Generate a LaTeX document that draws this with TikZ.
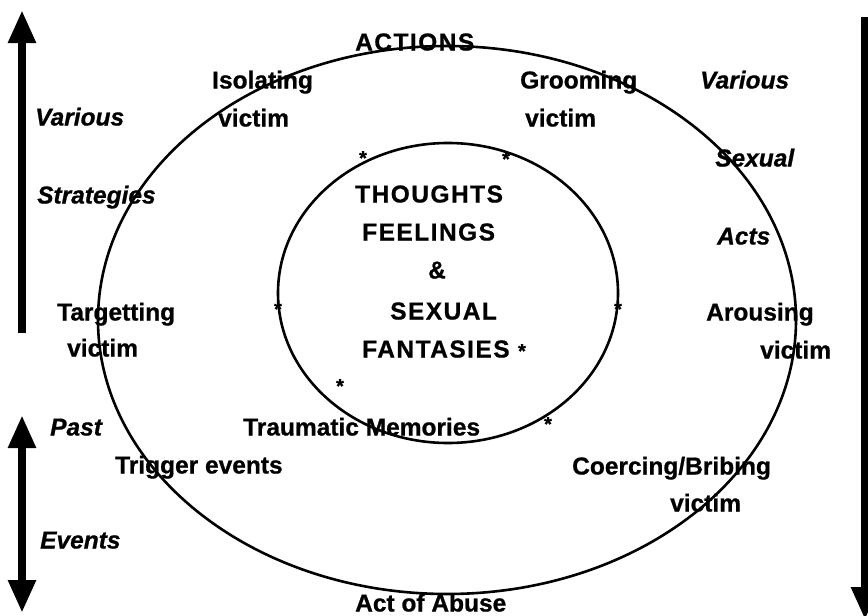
\documentclass[tikz,border=0pt]{standalone}
\usepackage{fontspec}
\setmainfont{Liberation Sans}[BoldFeatures={FakeBold=0.8},BoldItalicFeatures={FakeBold=0.8}]
\usepackage{tikz}
\usetikzlibrary{arrows.meta}

\tikzset{
  lbl/.style={anchor=west, inner sep=0pt, text height=17pt, text depth=0pt, font=\fontsize{24.5}{28}\selectfont\bfseries},
  itl/.style={lbl, font=\fontsize{24.5}{28}\selectfont\bfseries\itshape},
  caps/.style={lbl, font=\fontsize{24.5}{28}\selectfont\bfseries\addfontfeatures{LetterSpace=6}},
  ast/.style={inner sep=0pt, font=\fontsize{20}{20}\selectfont\bfseries},
  bigarrow/.style={line width=8.5pt, -{Triangle[length=33pt,width=26pt]}},
  bigarrows/.style={line width=8.5pt, {Triangle[length=33pt,width=26pt]}-{Triangle[length=33pt,width=26pt]}}
}

\begin{document}
\begin{tikzpicture}[x=1pt,y=-1pt]
  \useasboundingbox (0,0) rectangle (868,616);
  \draw[line width=2.6pt] (447,320) ellipse [x radius=349pt, y radius=274pt];
  \draw[line width=2.6pt] (448,293) ellipse [x radius=170pt, y radius=150pt];

  \coordinate (strA) at (22,333);
  \coordinate (strB) at (22,10);
  \coordinate (pastA) at (22,415);
  \coordinate (pastB) at (22,613);
  \coordinate (actA) at (865,17);
  \coordinate (actB) at (865,620);
  \draw[bigarrow] (strA) -- (strB);
  \draw[bigarrows] (pastA) -- (pastB);
  \draw[bigarrow] (actA) -- (actB);

  \node[caps] (actions) at (355,42) {ACTIONS};
  \node[lbl] (iso) at (212,80) {Isolating};
  \node[lbl] (isov) at (218,118) {victim};
  \node[lbl] (groom) at (520,80) {Grooming};
  \node[lbl] (groomv) at (525,118) {victim};
  \node[itl] (varR) at (700,80) {Various};
  \node[itl] (sex) at (715,158) {Sexual};
  \node[itl] (acts) at (717,236) {Acts};
  \node[lbl] (arouse) at (706,312) {Arousing};
  \node[lbl] (arousev) at (760,350) {victim};
  \node[itl] (varL) at (35,117) {Various};
  \node[itl] (strat) at (37,195) {Strategies};
  \node[lbl] (target) at (57,312) {Targetting};
  \node[lbl] (targetv) at (67,348) {victim};

  \node[caps] (thoughts) at (355,194) {THOUGHTS};
  \node[caps] (feelings) at (362,232) {FEELINGS};
  \node[caps] (amp) at (428,270) {\&};
  \node[caps] (sexual) at (390,311) {SEXUAL};
  \node[caps] (fant) at (362,349) {FANTASIES};

  \node[lbl] (trauma) at (243,427) {Traumatic Memories};
  \node[itl] (past) at (50,427) {Past};
  \node[lbl] (trigger) at (115,465) {Trigger events};
  \node[lbl] (coerce) at (572,466) {Coercing/Bribing};
  \node[lbl] (coercev) at (670,503) {victim};
  \node[itl] (events) at (40,540) {Events};
  \node[lbl] (abuse) at (355,603) {Act of Abuse};

  \foreach \x/\y [count=\i] in {363/158, 506/159, 278/309, 618/309, 522/351, 340/386, 548/424}
    \node[ast] (s\i) at (\x,\y) {*};
\end{tikzpicture}
\end{document}
